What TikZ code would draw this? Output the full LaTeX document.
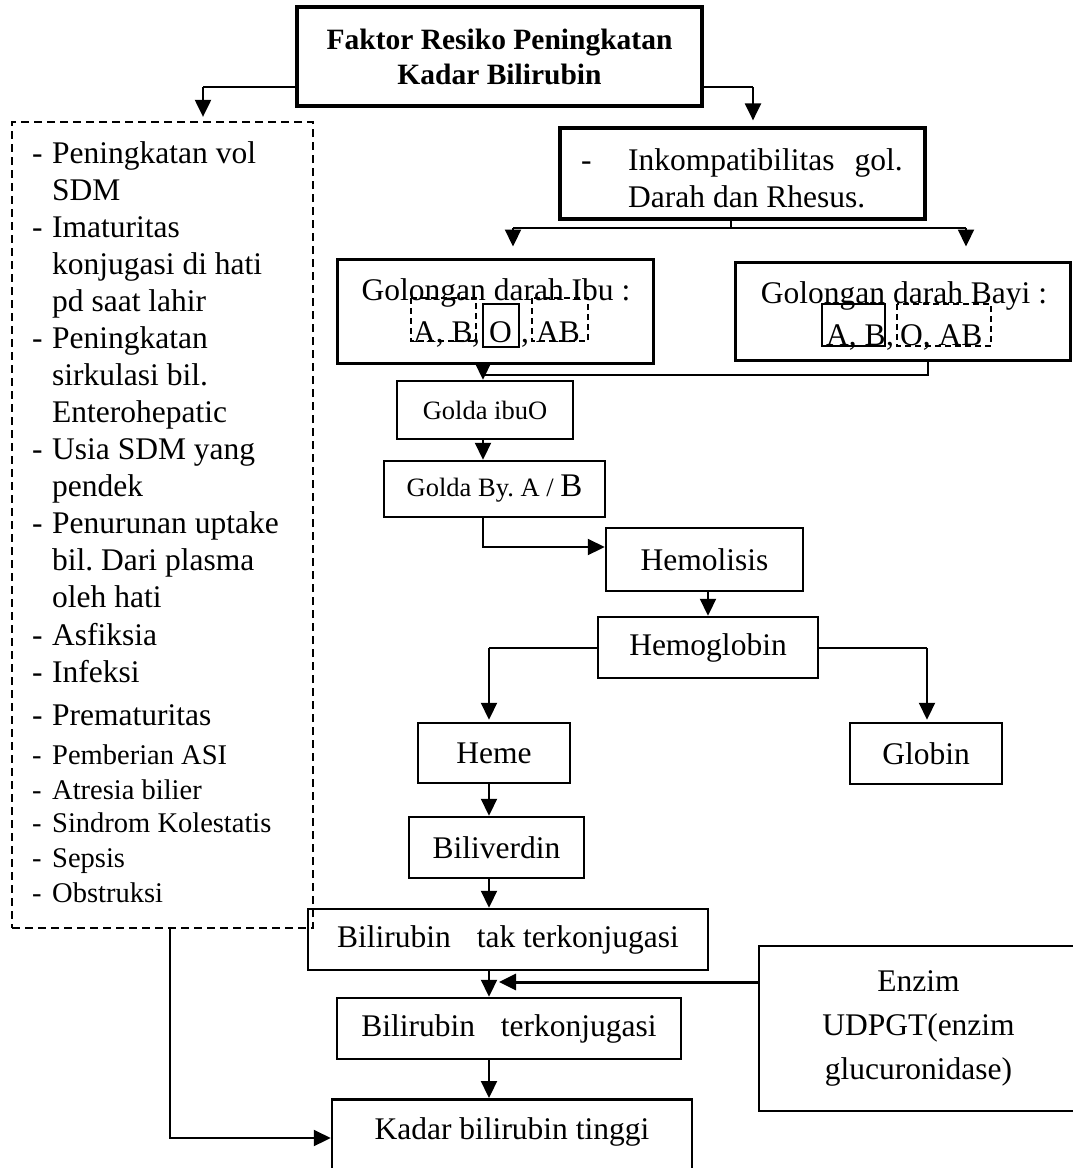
\documentclass[tikz,border=0pt]{standalone}
\usepackage{fontspec}
\setmainfont{Liberation Serif}
\usetikzlibrary{arrows.meta,calc}
\newcommand{\fb}{\fontsize{31.5}{37}\selectfont}
\newcommand{\fsm}{\fontsize{28.5}{34}\selectfont}
\newcommand{\fg}{\fontsize{26.5}{31}\selectfont}
\begin{document}
\begin{tikzpicture}[x=1pt,y=-1pt,
  box/.style={draw, line width=2.5pt, inner sep=0pt, align=center, font=\fb},
  arr/.style={-{Triangle[length=17pt 0 0,width=16pt 0 0]}, line width=2.2pt},
  thinln/.style={line width=1.4pt},
  txt/.style={inner sep=0pt, anchor=base west, font=\fb},
  innerdash/.style={line width=1.5pt, dash pattern=on 6pt off 4pt},
  innersolid/.style={line width=2pt}
  ]
\useasboundingbox (0,0) rectangle (1072,1168);

% title
\node[box, line width=3.2pt, minimum width=405pt, minimum height=99pt,
      font=\fontsize{29.5}{35}\selectfont\bfseries] (title) at (499.5,56.5)
      {Faktor Resiko Peningkatan\\Kadar Bilirubin};

% left dashed list
\node[draw, line width=2.3pt, dash pattern=on 8pt off 5pt, minimum width=301pt,
      minimum height=806pt, inner sep=0pt] (risk) at (162.5,525) {};
\foreach \i/\y/\t in {1/163/Peningkatan vol, 2/200/SDM, 3/237/Imaturitas,
    4/274/konjugasi di hati, 5/311/pd saat lahir, 6/348/Peningkatan,
    7/385/sirkulasi bil., 8/422/Enterohepatic, 9/459/Usia SDM yang,
    10/496/pendek, 11/533/Penurunan uptake, 12/570/bil.\ Dari plasma,
    13/607/oleh hati, 14/645/Asfiksia, 15/682/Infeksi, 16/725/Prematuritas}
  \node[txt] (rt\i) at (52,\y) {\t};
\foreach \i/\y/\t in {17/764/Pemberian ASI, 18/799/Atresia bilier,
    19/832/Sindrom Kolestatis, 20/867/Sepsis, 21/902/Obstruksi}
  \node[txt, font=\fsm] (rt\i) at (52,\y) {\t};
\foreach \i/\y in {1/163, 3/237, 6/348, 9/459, 11/533, 14/645, 15/682, 16/725}
  \node[txt] (rd\i) at (32,\y) {-};
\foreach \i/\y in {17/764, 18/799, 19/832, 20/867, 21/902}
  \node[txt, font=\fsm] (rd\i) at (32,\y) {-};

% incompatibility box
\node[box, line width=3.2pt, minimum width=365pt, minimum height=91pt] (inkomp) at (742.5,173.5) {};
\node[txt] (ik1) at (581,170) {-};
\node[txt] (ik2) at (628,170) {Inkompatibilitas};
\node[txt, anchor=base east] (ik3) at (903,170) {gol.};
\node[txt] (ik4) at (628,207) {Darah dan Rhesus.};

% blood group mother
\node[box, line width=3pt, minimum width=316pt, minimum height=104pt] (ibu) at (495,311) {};
\node[txt, anchor=base] (ibut) at (496,300) {Golongan darah Ibu :};
\node[txt] (ia) at (413,342) {A, B};
\node[txt] (ic1) at (472,342) {,};
\node[txt] (io) at (489,342) {O};
\node[txt] (ic2) at (521,342) {,};
\node[txt] (iab) at (536,342) {AB};
\draw[innerdash] (411,298) rectangle (476,341);
\draw[innersolid] (483,304) rectangle (519,347);
\draw[innerdash] (532,298) rectangle (588,341);

% blood group baby
\node[box, line width=3pt, minimum width=335pt, minimum height=98pt] (bayi) at (902.5,311) {};
\node[txt, anchor=base] (bayit) at (904,303) {Golongan darah Bayi :};
\node[txt] (ba) at (826,345) {A, B};
\node[txt] (bc) at (886,345) {,};
\node[txt] (bo) at (900,345) {O, AB};
\draw[innersolid] (822,304) rectangle (885,346);
\draw[innerdash] (897,304) rectangle (991,346);

% chain
\node[box, minimum width=176pt, minimum height=58pt, font=\fg] (gibu) at (485,410) {Golda ibuO};
\node[box, minimum width=221pt, minimum height=56pt, font=\fg] (gby) at (494.5,489)
     {Golda By.\ A / {\fontsize{33}{36}\selectfont B}};
\node[box, minimum width=197pt, minimum height=63pt] (hemolisis) at (704.5,559.5) {Hemolisis};
\node[box, minimum width=220pt, minimum height=61pt] (hemoglobin) at (708,647.5) {Hemoglobin};
\node[box, minimum width=152pt, minimum height=60pt] (heme) at (494,753) {Heme};
\node[box, minimum width=152pt, minimum height=61pt] (globin) at (926,753.5) {Globin};
\node[box, minimum width=175pt, minimum height=61pt] (biliv) at (496.5,847.5) {Biliverdin};
\node[box, minimum width=400pt, minimum height=61pt] (biltak) at (508,939.5)
     {Bilirubin\hspace{18pt} tak terkonjugasi};
\node[box, minimum width=344pt, minimum height=61pt] (bilkon) at (509,1028.5)
     {Bilirubin\hspace{18pt} terkonjugasi};
\node[box, anchor=north, minimum width=360pt, minimum height=95pt] (kadar) at (512,1098)
     {Kadar bilirubin tinggi\\\mbox{}};
\node[box, minimum width=319pt, minimum height=165pt, font=\fontsize{31.5}{44}\selectfont] (enzim) at (918.5,1028.5)
     {Enzim\\UDPGT(enzim\\glucuronidase)};

% connector points
\coordinate (tlb) at (203,87);
\coordinate (trb) at (753,87);
\coordinate (sp) at (731,228);
\coordinate (spl) at (513,228);
\coordinate (spr) at (966,228);
\coordinate (jn) at (483,375);
\coordinate (bj) at (928,375);
\coordinate (gb) at (483,547);
\coordinate (hl) at (489,648);
\coordinate (hr) at (927,648);
\coordinate (ez) at (499,982);
\coordinate (rk) at (170,1138);

% connectors
\draw[thinln] (title.west |- tlb) -- (tlb);
\draw[arr, shorten >=4pt] (tlb) -- (risk.north -| tlb);
\draw[thinln] (title.east |- trb) -- (trb);
\draw[arr, shorten >=6pt] (trb) -- (inkomp.north -| trb);
\draw[thinln] (inkomp.south -| sp) -- (sp);
\draw[thinln] (spl) -- (spr);
\draw[arr, shorten >=11pt] (spl) -- (ibu.north -| spl);
\draw[arr, shorten >=14pt] (spr) -- (bayi.north -| spr);
\draw[arr] (ibu.south -| jn) -- (gibu.north -| jn);
\draw[thinln] (bayi.south -| bj) |- (jn);
\draw[arr] (gibu.south -| jn) -- (gby.north -| jn);
\draw[arr] (gby.south -| gb) |- (hemolisis.west |- gb);
\draw[arr] (hemolisis.south -| hemoglobin.north) -- (hemoglobin.north);
\draw[thinln] (hemoglobin.west |- hl) -- (hl);
\draw[arr, shorten >=2pt] (hl) -- (heme.north -| hl);
\draw[thinln] (hemoglobin.east |- hr) -- (hr);
\draw[arr, shorten >=2pt] (hr) -- (globin.north -| hr);
\draw[arr] (heme.south -| hl) -- (biliv.north -| hl);
\draw[arr] (biliv.south -| hl) -- (biltak.north -| hl);
\draw[arr] (biltak.south -| hl) -- (bilkon.north -| hl);
\draw[arr, line width=3pt] (enzim.west |- ez) -- (ez);
\draw[arr] (bilkon.south -| hl) -- (kadar.north -| hl);
\draw[arr] (risk.south -| rk) |- (kadar.west |- rk);
\end{tikzpicture}
\end{document}
